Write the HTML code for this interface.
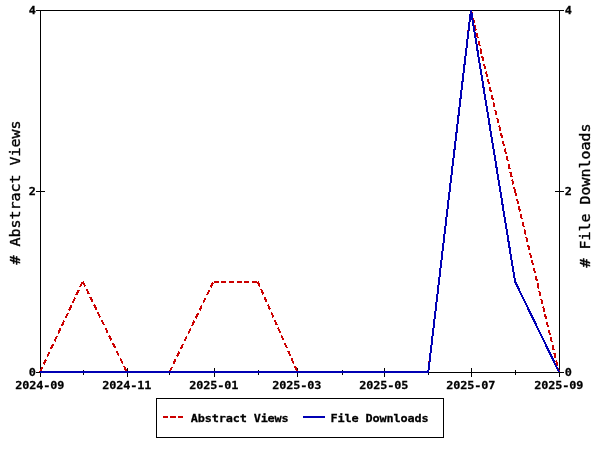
<!DOCTYPE html>
<html><head><meta charset="utf-8"><title>Usage statistics</title>
<style>
html,body{margin:0;padding:0;background:#fff;}
body{width:600px;height:450px;overflow:hidden;}
svg{display:block;}
text{font-family:"DejaVu Sans Mono","Liberation Mono",monospace;font-weight:bold;fill:#000;}
.t{font-size:11.2px;letter-spacing:-0.14px;stroke:#000;stroke-width:0.25px;}
.a{font-size:13.2px;font-weight:normal;stroke:#000;stroke-width:0.35px;}
</style></head><body>
<svg width="600" height="450" viewBox="0 0 600 450">
<rect x="0" y="0" width="600" height="450" fill="#ffffff"/>

<g shape-rendering="crispEdges" stroke="#000" stroke-width="1" fill="none">
<rect x="40.5" y="10.5" width="519" height="362"/>
<line x1="40.5" y1="368" x2="40.5" y2="377"/>
<line x1="83.5" y1="370" x2="83.5" y2="375"/>
<line x1="127.5" y1="368" x2="127.5" y2="377"/>
<line x1="169.5" y1="370" x2="169.5" y2="375"/>
<line x1="214.5" y1="368" x2="214.5" y2="377"/>
<line x1="258.5" y1="370" x2="258.5" y2="375"/>
<line x1="297.5" y1="368" x2="297.5" y2="377"/>
<line x1="342.5" y1="370" x2="342.5" y2="375"/>
<line x1="384.5" y1="368" x2="384.5" y2="377"/>
<line x1="428.5" y1="370" x2="428.5" y2="375"/>
<line x1="471.5" y1="368" x2="471.5" y2="377"/>
<line x1="515.5" y1="370" x2="515.5" y2="375"/>
<line x1="559.5" y1="368" x2="559.5" y2="377"/>
<line x1="36" y1="372.5" x2="45" y2="372.5"/>
<line x1="555" y1="372.5" x2="564" y2="372.5"/>
<line x1="36" y1="191.5" x2="45" y2="191.5"/>
<line x1="555" y1="191.5" x2="564" y2="191.5"/>
<line x1="36" y1="10.5" x2="45" y2="10.5"/>
<line x1="555" y1="10.5" x2="564" y2="10.5"/>
</g>
<g transform="translate(0,0)" fill="none" stroke="#cc0000" stroke-width="2" shape-rendering="crispEdges"><line x1="40.00" y1="372.00" x2="82.76" y2="281.50" stroke-dasharray="5.53 2.99"/><line x1="82.76" y1="281.50" x2="126.84" y2="372.00" stroke-dasharray="5.56 3.00"/><line x1="126.84" y1="372.00" x2="169.49" y2="372.00" stroke-dasharray="5.00 2.70"/><line x1="169.49" y1="372.00" x2="213.57" y2="281.50" stroke-dasharray="5.56 3.00"/><line x1="213.57" y1="281.50" x2="257.65" y2="281.50" stroke-dasharray="5.00 2.70"/><line x1="257.65" y1="281.50" x2="297.47" y2="372.00" stroke-dasharray="5.46 2.95"/><line x1="297.47" y1="372.00" x2="341.55" y2="372.00" stroke-dasharray="5.00 2.70"/><line x1="341.55" y1="372.00" x2="384.20" y2="372.00" stroke-dasharray="5.00 2.70"/><line x1="384.20" y1="372.00" x2="428.28" y2="372.00" stroke-dasharray="5.00 2.70"/><line x1="428.28" y1="372.00" x2="470.94" y2="10.00" stroke-dasharray="5.03 2.72"/><line x1="470.94" y1="10.00" x2="515.02" y2="191.00" stroke-dasharray="5.15 2.78"/><line x1="515.02" y1="191.00" x2="559.00" y2="372.00" stroke-dasharray="5.15 2.78"/></g>
<polyline points="40.00,372.00 82.76,372.00 126.84,372.00 169.49,372.00 213.57,372.00 257.65,372.00 297.47,372.00 341.55,372.00 384.20,372.00 428.28,372.00 470.94,10.00 515.02,281.50 559.00,372.00" transform="translate(0,0)" fill="none" stroke="#0000b4" stroke-width="2" stroke-linejoin="miter" shape-rendering="crispEdges"/>
<text class="t" transform="translate(15.3,389) scale(1.06,1)">2024-09</text>
<text class="t" transform="translate(102.3,389) scale(1.06,1)">2024-11</text>
<text class="t" transform="translate(189.3,389) scale(1.06,1)">2025-01</text>
<text class="t" transform="translate(272.3,389) scale(1.06,1)">2025-03</text>
<text class="t" transform="translate(359.3,389) scale(1.06,1)">2025-05</text>
<text class="t" transform="translate(446.3,389) scale(1.06,1)">2025-07</text>
<text class="t" transform="translate(534.3,389) scale(1.06,1)">2025-09</text>
<text class="t" transform="translate(28.7,376) scale(1.06,1)">0</text>
<text class="t" transform="translate(564.7,376) scale(1.06,1)">0</text>
<text class="t" transform="translate(28.7,195) scale(1.06,1)">2</text>
<text class="t" transform="translate(564.7,195) scale(1.06,1)">2</text>
<text class="t" transform="translate(28.7,14) scale(1.06,1)">4</text>
<text class="t" transform="translate(564.7,14) scale(1.06,1)">4</text>
<text class="a" transform="translate(19.8,264.5) rotate(-90) scale(1.1326,1)"># Abstract Views</text>
<text class="a" transform="translate(589.8,267.5) rotate(-90) scale(1.1326,1)"># File Downloads</text>
<rect x="156.5" y="398.5" width="287" height="39" fill="#fff" stroke="#000" stroke-width="1" shape-rendering="crispEdges"/>
<g fill="#cc0000" shape-rendering="crispEdges"><rect x="163" y="416" width="5" height="2"/><rect x="170" y="416" width="6" height="2"/><rect x="178" y="416" width="5" height="2"/></g>
<text class="t" transform="translate(190.7,422) scale(1.06,1)">Abstract Views</text>
<line x1="303" y1="417" x2="325" y2="417" stroke="#0000b4" stroke-width="2" shape-rendering="crispEdges"/>
<text class="t" transform="translate(330.6,422) scale(1.06,1)">File Downloads</text>
</svg></body></html>
